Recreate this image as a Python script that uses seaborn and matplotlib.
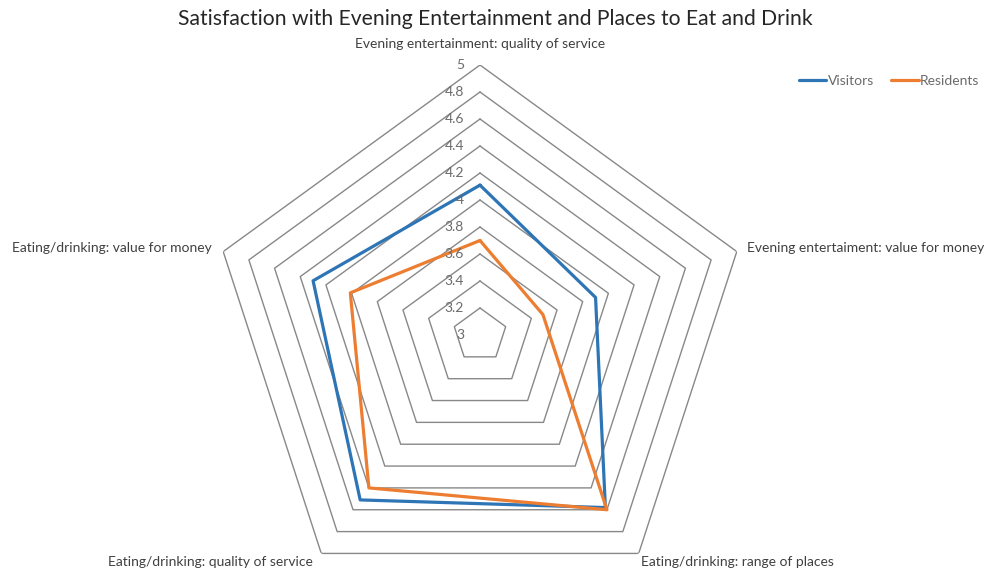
import numpy as np
import pandas as pd
import matplotlib
matplotlib.use("Agg")
import matplotlib.pyplot as plt
from matplotlib.lines import Line2D
import seaborn as sns

# Radar chart data
categories = [
    "Evening entertainment: quality of service",
    "Evening entertaiment: value for money",
    "Eating/drinking: range of places",
    "Eating/drinking: quality of service",
    "Eating/drinking: value for money",
]
visitors = [4.11, 3.90, 4.58, 4.51, 4.30]
residents = [3.70, 3.49, 4.60, 4.40, 4.01]
series_names = ["Visitors", "Residents"]
tick_values = [3, 3.2, 3.4, 3.6, 3.8, 4, 4.2, 4.4, 4.6, 4.8, 5]
tick_labels = ["3", "3.2", "3.4", "3.6", "3.8", "4", "4.2", "4.4", "4.6", "4.8", "5"]
title = "Satisfaction with Evening Entertainment and Places to Eat and Drink"

sns.set_theme(style="white")
plt.rcParams["font.family"] = ["Lato", "DejaVu Sans"]

colors = {"Visitors": "#2E75B6", "Residents": "#ED7D31"}
grid_color = "#888888"
label_color = "#404040"
tick_color = "#6b6b6b"

n = len(categories)
angles = np.linspace(0, 2 * np.pi, n, endpoint=False)
closed_angles = np.append(angles, 2 * np.pi)

rows = []
for name, vals in zip(series_names, [visitors, residents]):
    closed_vals = list(vals) + [vals[0]]
    for i, (t, v) in enumerate(zip(closed_angles, closed_vals)):
        rows.append({"series": name, "theta": t, "value": v, "order": i})
df = pd.DataFrame(rows)

fig = plt.figure(figsize=(9.9, 5.72), dpi=100)
ax = fig.add_axes([210 / 990, (572 - 605) / 572, 540 / 990, 540 / 572],
                  projection="polar")
ax.set_theta_offset(np.pi / 2)
ax.set_theta_direction(-1)
ax.set_ylim(3, 5)
ax.grid(False)
ax.spines["polar"].set_visible(False)
ax.set_xticks([])
ax.set_yticks([])
ax.patch.set_alpha(0)

# Pentagon gridlines
for r in tick_values[1:]:
    ax.plot(closed_angles, [r] * len(closed_angles), color=grid_color,
            lw=1.0, zorder=1)

# Data series
sns.lineplot(data=df, x="theta", y="value", hue="series", sort=False,
             estimator=None, units="series", palette=colors, lw=2.3,
             legend=False, ax=ax, zorder=3)
ax.set_xlabel("")
ax.set_ylabel("")
ax.set_ylim(3, 5)

# Radial value labels along the top axis
for v, lab in zip(tick_values, tick_labels):
    ax.annotate(lab, xy=(0, v), xytext=(-16, 0), textcoords="offset pixels",
                ha="right", va="center", fontsize=10, color=tick_color,
                annotation_clip=False)

# Category labels at the outer vertices
offsets = [(0, 21, "center", "center"),
           (10, 4, "left", "center"),
           (2, -9, "left", "center"),
           (-8, -9, "right", "center"),
           (-11, 4, "right", "center")]
for t, cat, (dx, dy, ha, va) in zip(angles, categories, offsets):
    ax.annotate(cat, xy=(t, 5), xytext=(dx, dy), textcoords="offset pixels",
                ha=ha, va=va, fontsize=10, color=label_color,
                annotation_clip=False)

fig.text(495 / 990, 1 - 19 / 572, title, ha="center", va="center",
         fontsize=15.2, color="#262626")

handles = [Line2D([0], [0], color=colors[s], lw=2.3) for s in series_names]
fig.legend(handles, series_names, loc="center", ncol=2, frameon=False,
           bbox_to_anchor=(889 / 990, 1 - 81 / 572), fontsize=10,
           labelcolor=tick_color, handlelength=2.0, handletextpad=0.1,
           columnspacing=1.2)

fig.savefig("out.png", dpi=100)
